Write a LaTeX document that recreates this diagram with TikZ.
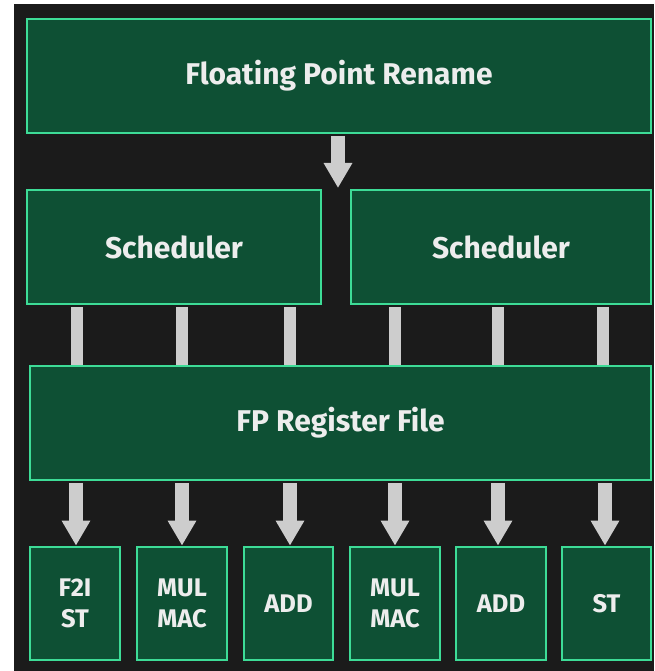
\documentclass[tikz,border=0pt]{standalone}
\usepackage{fontspec}
\setmainfont{Fira Sans}
\usetikzlibrary{arrows.meta}
\definecolor{bg}{HTML}{1B1B1B}
\definecolor{boxfill}{HTML}{0E5034}
\definecolor{boxline}{HTML}{3DDC97}
\definecolor{arrowgray}{HTML}{CDCDCD}
\definecolor{txt}{HTML}{EDEDED}
\tikzset{
  unitbox/.style={draw=boxline, fill=boxfill, line width=2.8pt, inner sep=0pt, text=txt,
    font=\bfseries\fontsize{30}{34}\selectfont, align=center},
  smallbox/.style={unitbox, font=\bfseries\fontsize{25.5}{31}\selectfont},
  bar/.style={draw=arrowgray, line width=12.5pt},
  flowarrow/.style={draw=arrowgray, line width=14pt, -{Triangle[width=27pt,length=25pt]}}
}
\begin{document}
\begin{tikzpicture}[x=1pt,y=-1pt]
\useasboundingbox (0,0) rectangle (654,671);
\fill[bg] (14,4) rectangle (654,671);
% main boxes
\node[unitbox, minimum width=624pt, minimum height=114pt] (rename) at (339,76) {Floating Point Rename};
\node[unitbox, minimum width=294pt, minimum height=114pt] (schedL) at (174,247) {Scheduler};
\node[unitbox, minimum width=300pt, minimum height=114pt] (schedR) at (501,247) {Scheduler};
\node[unitbox, minimum width=621pt, minimum height=114pt] (fp) at (340.5,423) {FP Register File};
% execution units
\node[smallbox, minimum width=90pt, minimum height=113pt] (u1) at (75,603.5) {F2I\\ST};
\node[smallbox, minimum width=90pt, minimum height=113pt] (u2) at (182,603.5) {MUL\\MAC};
\node[smallbox, minimum width=89pt, minimum height=113pt] (u3) at (288.5,603.5) {ADD};
\node[smallbox, minimum width=90pt, minimum height=113pt] (u4) at (395,603.5) {MUL\\MAC};
\node[smallbox, minimum width=90pt, minimum height=113pt] (u5) at (501,603.5) {ADD};
\node[smallbox, minimum width=89pt, minimum height=113pt] (u6) at (606.5,603.5) {ST};
% rename -> schedulers
\coordinate (split) at (338,188);
\draw[flowarrow] (338,0 |- rename.south) ++(0,1.5) -- (split);
% scheduler -> register file bars
\foreach \x in {77,182,290} {
  \draw[bar] (\x,0 |- schedL.south) ++(0,1.5) -- (\x,0 |- fp.north);
}
\foreach \x in {395,498,603} {
  \draw[bar] (\x,0 |- schedR.south) ++(0,1.5) -- (\x,0 |- fp.north);
}
% register file -> units
\foreach \u/\x in {u1/76,u2/182,u3/290,u4/395,u5/498,u6/605} {
  \draw[flowarrow] (\x,0 |- fp.south) ++(0,1.5) -- (\x,0 |- \u.north);
}
\end{tikzpicture}
\end{document}
